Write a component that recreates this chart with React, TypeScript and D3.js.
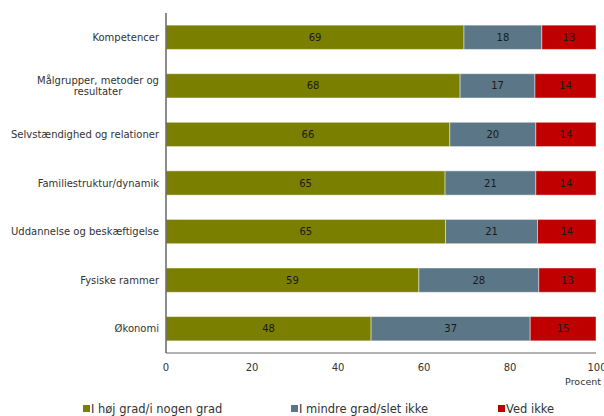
import React from "react";
import * as d3 from "d3";

const categories = [
  "Kompetencer",
  "Målgrupper, metoder og resultater",
  "Selvstændighed og relationer",
  "Familiestruktur/dynamik",
  "Uddannelse og beskæftigelse",
  "Fysiske rammer",
  "Økonomi",
];
const labelLines: string[][] = [
  ["Kompetencer"],
  ["Målgrupper, metoder og", "resultater"],
  ["Selvstændighed og relationer"],
  ["Familiestruktur/dynamik"],
  ["Uddannelse og beskæftigelse"],
  ["Fysiske rammer"],
  ["Økonomi"],
];
const highValues = [69.3, 68.4, 66.0, 64.9, 65.0, 58.8, 47.7];
const lowValues = [18.1, 17.4, 20.0, 21.1, 21.4, 27.9, 37.0];
const unknownValues = [12.6, 14.2, 14.0, 14.0, 13.6, 13.3, 15.3];
const seriesNames = ["I høj grad/i nogen grad", "I mindre grad/slet ikke", "Ved ikke"];
const seriesColors = ["#7a7f00", "#5b7687", "#c00000"];
const xTicks = [0, 20, 40, 60, 80, 100];

export default function App() {
  const W = 604, H = 416;
  const left = 166, right = 596, top = 13, bottom = 353;
  const x = d3.scaleLinear().domain([0, 100]).range([left, right]);
  const y = d3.scaleBand().domain(categories).range([top, bottom]).paddingInner(0.5).paddingOuter(0.25);
  const series = [highValues, lowValues, unknownValues];
  const font = "DejaVu Sans, Verdana, sans-serif";
  const labelRight = 159;

  return (
    <svg width={W} height={H} style={{ position: "absolute", left: 0, top: 0 }} fontFamily={font}>
      <rect width={W} height={H} fill="#fff" />
      {categories.map((c, i) => {
        let acc = 0;
        const y0 = y(c)!;
        const bh = y.bandwidth();
        const cy = y0 + bh / 2;
        const lines = labelLines[i];
        return (
          <g key={c}>
            {series.map((s, k) => {
              const v = s[i];
              const x0 = x(acc), x1 = x(acc + v);
              acc += v;
              return (
                <g key={k}>
                  <rect x={x0} y={y0} width={x1 - x0} height={bh} fill={seriesColors[k]} stroke="#ffffff" strokeOpacity={0.45} strokeWidth={1} />
                  <text x={(x0 + x1) / 2} y={cy} dy="0.35em" textAnchor="middle" fontSize={10} fill="#1a1a1a">{Math.round(v)}</text>
                </g>
              );
            })}
            {lines.length === 1 ? (
              <text x={labelRight} y={cy} dy="0.35em" textAnchor="end" fontSize={10} fill="#333">{lines[0]}</text>
            ) : (
              <text textAnchor="middle" fontSize={10} fill="#333">
                {lines.map((ln, j) => (
                  <tspan key={j} x={98} y={cy + (j - (lines.length - 1) / 2) * 11} dy="0.35em">{ln}</tspan>
                ))}
              </text>
            )}
          </g>
        );
      })}
      <line x1={left} x2={left} y1={top} y2={bottom} stroke="#666" strokeWidth={1.5} />
      <line x1={left} x2={right} y1={bottom} y2={bottom} stroke="#666" strokeWidth={1} />
      {xTicks.map((t) => (
        <text key={t} x={x(t) + (t === 100 ? 1 : 0)} y={367} dy="0.35em" textAnchor="middle" fontSize={10} fill="#333">{t}</text>
      ))}
      <text x={601} y={382} dy="0.35em" textAnchor="end" fontSize={9.5} fill="#333">Procent</text>
      {seriesNames.map((n, k) => {
        const lx = [83, 291, 498][k];
        return (
          <g key={n}>
            <rect x={lx} y={405} width={7} height={7} fill={seriesColors[k]} />
            <text x={lx + 8} y={409} dy="0.35em" fontSize={11.5} fill="#333">{n}</text>
          </g>
        );
      })}
    </svg>
  );
}
